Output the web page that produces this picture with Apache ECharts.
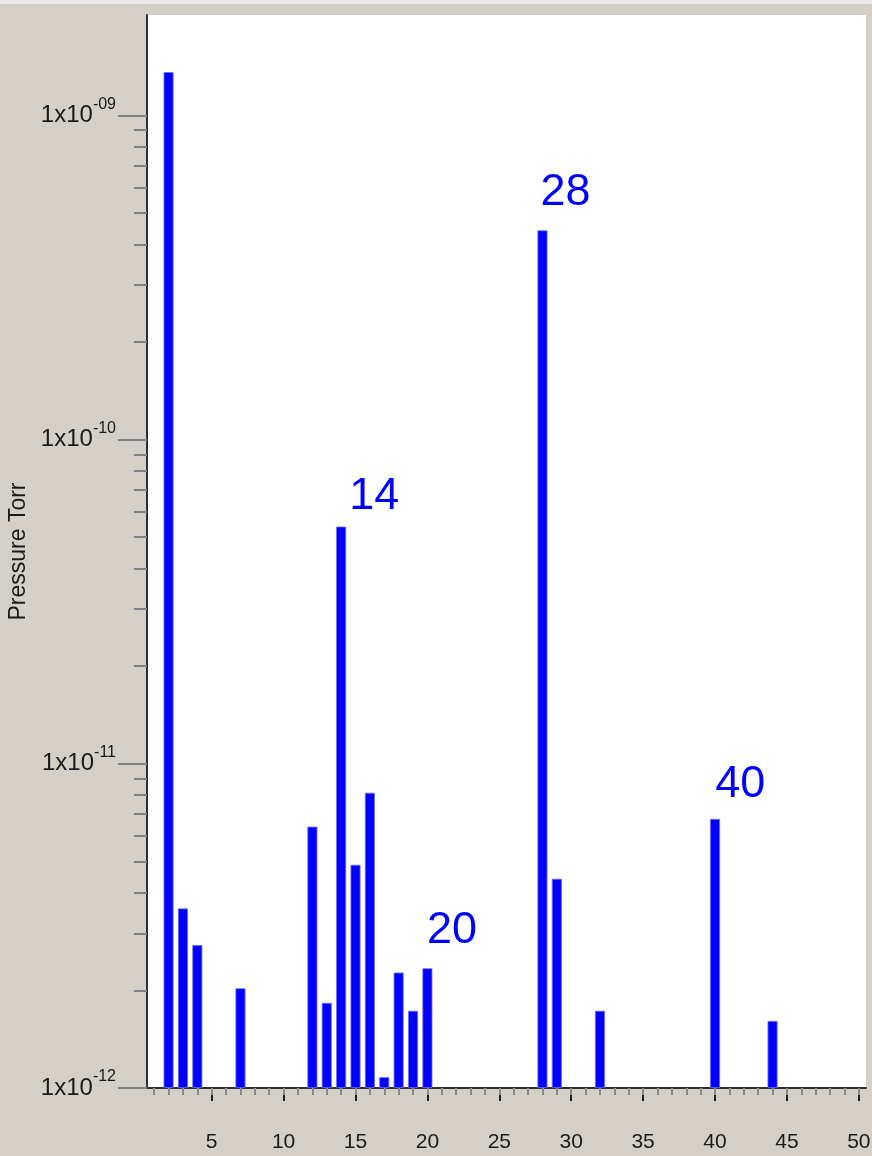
<!DOCTYPE html>
<html><head><meta charset="utf-8">
<script src="https://cdn.jsdelivr.net/npm/echarts@6/dist/echarts.min.js"></script>
<style>html,body{margin:0;padding:0;background:#d4d0c8}#c{width:872px;height:1156px}</style>
</head><body><div id="c"></div>
<script>
// ---- data ----
const masses = [2, 3, 4, 7, 12, 13, 14, 15, 16, 17, 18, 19, 20, 28, 29, 32, 40, 44];
const pressures = [1.36e-9, 3.58e-12, 2.76e-12, 2.03e-12, 6.40e-12, 1.83e-12, 5.39e-11, 4.88e-12, 8.14e-12,
  1.08e-12, 2.27e-12, 1.73e-12, 2.34e-12, 4.42e-10, 4.42e-12, 1.73e-12, 6.76e-12, 1.61e-12];
const xTickLabels = [5, 10, 15, 20, 25, 30, 35, 40, 45, 50];
const xMinorTicks = [1,2,3,4,5,6,7,8,9,10,11,12,13,14,15,16,17,18,19,20,21,22,23,24,25,
  26,27,28,29,30,31,32,33,34,35,36,37,38,39,40,41,42,43,44,45,46,47,48,49,50];
const yDecades = [1e-12, 1e-11, 1e-10, 1e-9];
const yMinorDecades = [1e-12, 1e-11, 1e-10];
const yMinorMultipliers = [2, 3, 4, 5, 6, 7, 8, 9];
const yMin = 1e-12, yMax = 2.04e-9;
const xMin = 0.5, xMax = 50.5;
const peakLabels = ['14', '20', '28', '40'];
const peakLabelX = [14.6, 20.0, 27.9, 40.05];
const peakLabelY = [6.65e-11, 3.04e-12, 5.77e-10, 8.6e-12];
const yAxisName = 'Pressure Torr';

// ---- build ----
const L0 = Math.log10(yMin);
const L = v => Math.log10(v) - L0;
const yTop = L(yMax);
const majorY = yDecades.map(L);
const minorY = [];
yMinorDecades.forEach(d => yMinorMultipliers.forEach(k => minorY.push(L(k * d))));

const chart = echarts.init(document.getElementById('c'), null, {renderer: 'canvas'});
const font = 'Liberation Sans, Arial, sans-serif';
chart.setOption({
  animation: false,
  backgroundColor: '#d4d0c8',
  graphic: [{type: 'rect', z: -1, shape: {x: 0, y: 0, width: 872, height: 4}, style: {fill: '#ebe9e5'}}],
  grid: {left: 147, right: 6, top: 15, bottom: 68, show: true, backgroundColor: '#ffffff', borderWidth: 0,
    containLabel: false, outerBoundsMode: 'none'},
  xAxis: [{
    type: 'value', min: xMin, max: xMax, position: 'bottom',
    splitLine: {show: false},
    axisLine: {show: true, onZero: false, lineStyle: {color: '#303030', width: 2}},
    axisTick: {show: true, customValues: xTickLabels, length: 13, lineStyle: {color: '#202020', width: 2}},
    axisLabel: {show: true, customValues: xTickLabels, margin: 44, fontSize: 21, color: '#1a1a1a', fontFamily: font}
  }, {
    type: 'value', min: xMin, max: xMax, position: 'bottom',
    splitLine: {show: false},
    axisLine: {show: false, onZero: false},
    axisTick: {show: true, customValues: xMinorTicks, length: 7, lineStyle: {color: '#8a8a8a', width: 2}},
    axisLabel: {show: false}
  }],
  yAxis: [{
    type: 'value', min: 0, max: yTop, position: 'left',
    name: yAxisName, nameLocation: 'middle', nameRotate: 90, nameGap: 116,
    nameTextStyle: {fontSize: 23, color: '#1a1a1a', fontFamily: font},
    splitLine: {show: false},
    axisLine: {show: true, onZero: false, lineStyle: {color: '#303030', width: 2}},
    axisTick: {show: true, customValues: majorY, length: 29, lineStyle: {color: '#808080', width: 2}},
    axisLabel: {
      show: true, customValues: majorY, margin: 31, fontFamily: font,
      formatter: v => {
        const e = Math.round(v + L0);
        return '{a|1x10}{b|-' + String(-e).padStart(2, '0') + '}';
      },
      rich: {
        a: {fontSize: 24, color: '#1a1a1a', fontFamily: font},
        b: {fontSize: 16, color: '#1a1a1a', fontFamily: font, padding: [0, 0, 22, 0]}
      }
    }
  }, {
    type: 'value', min: 0, max: yTop, position: 'left',
    splitLine: {show: false},
    axisLine: {show: false, onZero: false},
    axisTick: {show: true, customValues: minorY, length: 13, lineStyle: {color: '#808080', width: 2}},
    axisLabel: {show: false}
  }],
  series: [{
    type: 'bar', xAxisIndex: 0, yAxisIndex: 0, barWidth: 10,
    itemStyle: {color: '#0000ff', borderColor: '#6f6fff', borderWidth: 0.8},
    data: masses.map((m, i) => [m, L(pressures[i])])
  }, {
    type: 'scatter', xAxisIndex: 0, yAxisIndex: 0, symbol: 'circle', symbolSize: 1,
    itemStyle: {color: 'rgba(0,0,0,0)', opacity: 1},
    label: {show: true, position: [0, 0], align: 'left', verticalAlign: 'middle',
      fontSize: 45, color: '#0000ff', opacity: 1, fontFamily: font, formatter: p => p.name},
    data: peakLabels.map((t, i) => ({name: t, value: [peakLabelX[i], L(peakLabelY[i])]}))
  }]
});
</script></body></html>
